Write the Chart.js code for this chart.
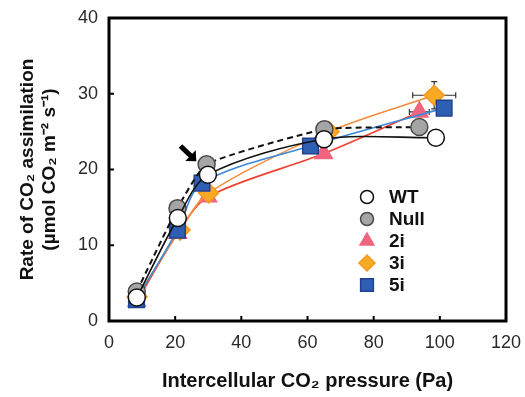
<!DOCTYPE html>
<html>
<head>
<meta charset="utf-8">
<script src="https://cdn.jsdelivr.net/npm/chart.js@4"></script>
<style>
  html, body { margin: 0; padding: 0; background: #fff; }
  #wrap { width: 525px; height: 397px; }
</style>
</head>
<body>
<div id="wrap"><canvas id="chart"></canvas></div>
<script>
// ---------- Data ----------
const SERIES = ['WT', 'Null', '2i', '3i', '5i'];

const wtX = [8.4, 20.8, 29.9, 65.0, 98.8];
const wtY = [3.1, 13.6, 19.3, 24.0, 24.2];

const nullX = [8.4, 20.7, 29.5, 65.1, 93.8];
const nullY = [3.9, 14.9, 20.7, 25.3, 25.6];

const i2X = [8.4, 20.8, 29.9, 64.9, 93.8];
const i2Y = [2.6, 11.6, 16.4, 22.1, 27.6];
const i2XErr = [0, 0, 0, 0, 3.0];
const i2YErr = [0, 0, 0, 0, 0];

const i3X = [8.5, 21.5, 30.1, 66.5, 98.3];
const i3Y = [3.2, 12.0, 16.9, 25.0, 29.8];
const i3XErr = [0, 0, 0, 0, 6.5];
const i3YErr = [0, 0, 0, 0, 1.8];

const i5X = [8.3, 20.7, 28.1, 60.9, 101.3];
const i5Y = [2.8, 12.0, 18.2, 23.1, 28.1];

const X_TICKS = [0, 20, 40, 60, 80, 100, 120];
const Y_TICKS = [0, 10, 20, 30, 40];

// arrow annotation (data coords): tail -> head
const ARROW = { x0: 21.6, y0: 23.1, x1: 26.4, y1: 21.1 };

const FONT = "'Liberation Sans', Arial, sans-serif";

function pts(xs, ys) { return xs.map((x, i) => ({ x, y: ys[i] })); }

const STYLE = {
  'WT':   { line: '#111', dash: [], fill: '#ffffff', edge: '#111', shape: 'circle', r: 8.5, t: 0.3, order: 1 },
  'Null': { line: '#111', dash: [6, 4], fill: '#a5a5a5', edge: '#4a4a4a', shape: 'circle', r: 8.5, t: 0.15, order: 2 },
  '2i':   { line: '#f04030', dash: [], fill: '#f0647f', edge: '#f0647f', shape: 'triangle', r: 10, t: 0.3, order: 5 },
  '3i':   { line: '#f68a3c', dash: [], fill: '#f8aa24', edge: '#f39a20', shape: 'rectRot', r: 10, t: 0.3, order: 4 },
  '5i':   { line: '#3b88d8', dash: [], fill: '#2f5fb3', edge: '#22408e', shape: 'rect', r: 11, t: 0.3, order: 3 },
};

const seriesData = {
  'WT': pts(wtX, wtY),
  'Null': pts(nullX, nullY),
  '2i': pts(i2X, i2Y),
  '3i': pts(i3X, i3Y),
  '5i': pts(i5X, i5Y),
};

const errBars = [
  { key: '2i', xs: i2X, ys: i2Y, xe: i2XErr, ye: i2YErr },
  { key: '3i', xs: i3X, ys: i3Y, xe: i3XErr, ye: i3YErr },
];

const datasets = SERIES.map(k => {
  const s = STYLE[k];
  return {
    label: k,
    data: seriesData[k],
    borderColor: s.line,
    borderWidth: k === 'Null' ? 2 : 1.6,
    borderDash: s.dash,
    tension: s.t,
    pointStyle: s.shape,
    pointRadius: s.r,
    pointBackgroundColor: s.fill,
    pointBorderColor: s.edge,
    pointBorderWidth: 1.5,
    order: s.order,
    fill: false,
  };
});

// ---------- Custom drawing: box, inward ticks, error bars, arrow, legend ----------
const extras = {
  id: 'extras',
  beforeDatasetsDraw(chart) {
    const { ctx, scales: { x, y } } = chart;
    ctx.save();
    ctx.strokeStyle = '#333';
    ctx.lineWidth = 1.2;
    errBars.forEach(e => {
      e.xs.forEach((xv, i) => {
        const px = x.getPixelForValue(xv), py = y.getPixelForValue(e.ys[i]);
        if (e.xe[i]) {
          const a = x.getPixelForValue(xv - e.xe[i]), b = x.getPixelForValue(xv + e.xe[i]);
          ctx.beginPath();
          ctx.moveTo(a, py); ctx.lineTo(b, py);
          ctx.moveTo(a, py - 3); ctx.lineTo(a, py + 3);
          ctx.moveTo(b, py - 3); ctx.lineTo(b, py + 3);
          ctx.stroke();
        }
        if (e.ye[i]) {
          const a = y.getPixelForValue(e.ys[i] - e.ye[i]), b = y.getPixelForValue(e.ys[i] + e.ye[i]);
          ctx.beginPath();
          ctx.moveTo(px, a); ctx.lineTo(px, b);
          ctx.moveTo(px - 3, a); ctx.lineTo(px + 3, a);
          ctx.moveTo(px - 3, b); ctx.lineTo(px + 3, b);
          ctx.stroke();
        }
      });
    });
    ctx.restore();
  },
  afterDraw(chart) {
    const { ctx, chartArea: ca, scales: { x, y } } = chart;
    ctx.save();
    // frame
    ctx.strokeStyle = '#000';
    ctx.lineWidth = 3;
    ctx.strokeRect(ca.left, ca.top, ca.right - ca.left, ca.bottom - ca.top);
    // inward ticks
    ctx.lineWidth = 2;
    ctx.beginPath();
    X_TICKS.slice(1, -1).forEach(v => {
      const px = x.getPixelForValue(v);
      ctx.moveTo(px, ca.bottom); ctx.lineTo(px, ca.bottom - 5);
    });
    Y_TICKS.slice(1, -1).forEach(v => {
      const py = y.getPixelForValue(v);
      ctx.moveTo(ca.left, py); ctx.lineTo(ca.left + 5, py);
    });
    ctx.stroke();

    // arrow
    const ax0 = x.getPixelForValue(ARROW.x0), ay0 = y.getPixelForValue(ARROW.y0);
    const ax1 = x.getPixelForValue(ARROW.x1), ay1 = y.getPixelForValue(ARROW.y1);
    const ang = Math.atan2(ay1 - ay0, ax1 - ax0);
    const head = 11;
    ctx.strokeStyle = '#000';
    ctx.lineWidth = 5;
    ctx.beginPath();
    ctx.moveTo(ax0, ay0);
    ctx.lineTo(ax1 - head * 0.6 * Math.cos(ang), ay1 - head * 0.6 * Math.sin(ang));
    ctx.stroke();
    ctx.fillStyle = '#000';
    ctx.beginPath();
    ctx.moveTo(ax1, ay1);
    ctx.lineTo(ax1 - head * Math.cos(ang - 0.75), ay1 - head * Math.sin(ang - 0.75));
    ctx.lineTo(ax1 - head * Math.cos(ang + 0.75), ay1 - head * Math.sin(ang + 0.75));
    ctx.closePath();
    ctx.fill();

    // legend
    const lx = 367, ly = 197, step = 22;
    ctx.font = 'bold 19px ' + FONT;
    ctx.textBaseline = 'middle';
    ctx.textAlign = 'left';
    SERIES.forEach((k, i) => {
      const s = STYLE[k];
      const yy = ly + i * step;
      ctx.fillStyle = s.fill;
      ctx.strokeStyle = s.edge;
      ctx.lineWidth = 1.5;
      const r = { 'WT': 6.5, 'Null': 6.5, '2i': 8, '3i': 8, '5i': 9 }[k];
      Chart.helpers.drawPoint(ctx, { pointStyle: s.shape, radius: r, borderWidth: 1.5 }, lx, yy);
      ctx.fillStyle = '#111';
      ctx.fillText(k, 389, yy + 1);
    });
    ctx.restore();
  }
};

new Chart(document.getElementById('chart'), {
  type: 'line',
  data: { datasets },
  plugins: [extras],
  options: {
    responsive: true,
    maintainAspectRatio: false,
    animation: false,
    layout: { padding: { top: 18, right: 19, left: 0, bottom: 0 } },
    plugins: { legend: { display: false }, tooltip: { enabled: false } },
    scales: {
      x: {
        type: 'linear', min: 0, max: 120,
        afterBuildTicks: s => { s.ticks = X_TICKS.map(v => ({ value: v })); },
        afterFit: s => { s.height = 76; s.paddingRight = 0; s.paddingLeft = 0; },
        grid: { display: false, drawTicks: false },
        border: { display: false },
        ticks: { color: '#2a2a2a', font: { family: FONT, size: 18 }, padding: 11 },
        title: {
          display: true, text: 'Intercellular CO₂ pressure (Pa)', color: '#111',
          font: { family: FONT, size: 20, weight: 'bold' }, padding: { top: 12 }
        }
      },
      y: {
        type: 'linear', min: 0, max: 40,
        afterBuildTicks: s => { s.ticks = Y_TICKS.map(v => ({ value: v })); },
        afterFit: s => { s.width = 109; s.paddingTop = 0; s.paddingBottom = 0; },
        grid: { display: false, drawTicks: false },
        border: { display: false },
        ticks: { color: '#2a2a2a', font: { family: FONT, size: 18 }, padding: 11 },
        title: {
          display: true, text: ['Rate of CO₂ assimilation', '(µmol CO₂ m⁻² s⁻¹)'], color: '#111',
          font: { family: FONT, size: 19, weight: 'bold', lineHeight: 1.2 }, padding: { top: 16, bottom: 0 }
        }
      }
    }
  }
});
</script>
</body>
</html>
